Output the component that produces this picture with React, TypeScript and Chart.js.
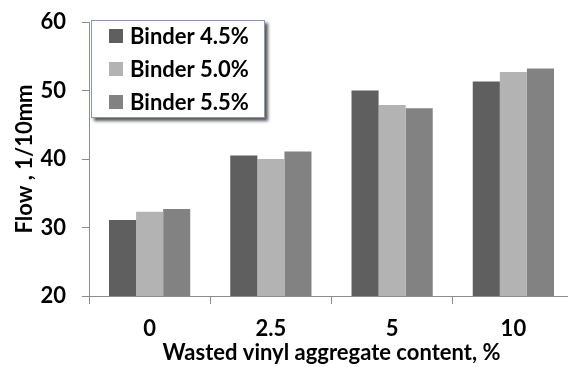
import React, { useEffect, useRef } from "react";
import { Chart, registerables } from "chart.js";
Chart.register(...registerables);

const categories = ["0", "2.5", "5", "10"];
const seriesNames = ["Binder 4.5%", "Binder 5.0%", "Binder 5.5%"];
const binder45 = [31.1, 40.5, 50.0, 51.3];
const binder50 = [32.3, 40.0, 47.9, 52.7];
const binder55 = [32.7, 41.1, 47.4, 53.2];
const seriesColors = ["#5f5f5f", "#b3b3b3", "#828282"];
const yMin = 20;
const yMax = 60;
const yStep = 10;
const xTitle = "Wasted vinyl aggregate content, %";
const yTitle = "Flow , 1/10mm";

const FONT = "Lato, 'Open Sans', sans-serif";
const FS = 22;

const boxLegend = {
  id: "boxLegend",
  afterDraw(chart: any) {
    const ctx = chart.ctx as CanvasRenderingContext2D;
    const area = chart.chartArea;
    const x = area.left + 2;
    const y = area.top - 2;
    const w = 174;
    const h = 98;
    ctx.save();
    ctx.shadowColor = "rgba(0,0,0,0.65)";
    ctx.shadowOffsetX = 3;
    ctx.shadowOffsetY = 3;
    ctx.shadowBlur = 3;
    ctx.fillStyle = "#ffffff";
    ctx.fillRect(x, y, w, h);
    ctx.shadowColor = "transparent";
    ctx.strokeStyle = "#8797b5";
    ctx.lineWidth = 1;
    ctx.strokeRect(x + 0.5, y + 0.5, w - 1, h - 1);
    ctx.font = `bold ${FS}px ${FONT}`;
    ctx.textBaseline = "middle";
    ctx.textAlign = "left";
    chart.data.datasets.forEach((ds: any, i: number) => {
      const cy = y + 16 + i * 33;
      ctx.fillStyle = ds.backgroundColor;
      ctx.fillRect(x + 18, cy - 7, 14, 14);
      ctx.fillStyle = "#000000";
      ctx.fillText(ds.label, x + 39, cy + 1);
    });
    ctx.restore();
  },
};

export default function App() {
  const ref = useRef<HTMLCanvasElement | null>(null);
  useEffect(() => {
    if (!ref.current) return;
    const series = [binder45, binder50, binder55];
    const font = { family: FONT, size: FS, weight: "bold" as const };
    const chart = new Chart(ref.current, {
      type: "bar",
      data: {
        labels: categories,
        datasets: series.map((d, i) => ({
          label: seriesNames[i],
          data: d,
          backgroundColor: seriesColors[i],
          borderWidth: 0,
          barPercentage: 1,
          categoryPercentage: 0.67,
        })),
      },
      options: {
        animation: false,
        responsive: false,
        maintainAspectRatio: false,
        layout: { padding: { left: 0, right: 6, top: 22, bottom: 0 } },
        plugins: { legend: { display: false }, tooltip: { enabled: false } },
        scales: {
          x: {
            afterFit: (s: any) => { s.height = 71; },
            border: { color: "#8c8c8c", width: 1 },
            grid: { drawOnChartArea: false, tickLength: 8, tickColor: "#8c8c8c", offset: true },
            ticks: { color: "#000", font, padding: 12 },
            title: { display: true, text: xTitle, color: "#000", font, padding: { top: 0, bottom: 1 } },
          },
          y: {
            min: yMin,
            max: yMax,
            afterFit: (s: any) => { s.width = 89; s.paddingTop = 0; s.paddingBottom = 0; },
            border: { color: "#8c8c8c", width: 1 },
            grid: { drawOnChartArea: false, tickLength: 7, tickColor: "#8c8c8c" },
            ticks: { stepSize: yStep, color: "#000", font, padding: 16 },
            title: { display: true, text: yTitle, color: "#000", font, padding: { top: 12, bottom: 0 } },
          },
        },
      },
      plugins: [boxLegend],
    });
    return () => chart.destroy();
  }, []);
  return (
    <div style={{ position: "absolute", left: 0, top: 0, width: 568, height: 367, overflow: "hidden", background: "#fff" }}>
      <canvas ref={ref} width={580} height={367} style={{ display: "block" }} />
    </div>
  );
}
